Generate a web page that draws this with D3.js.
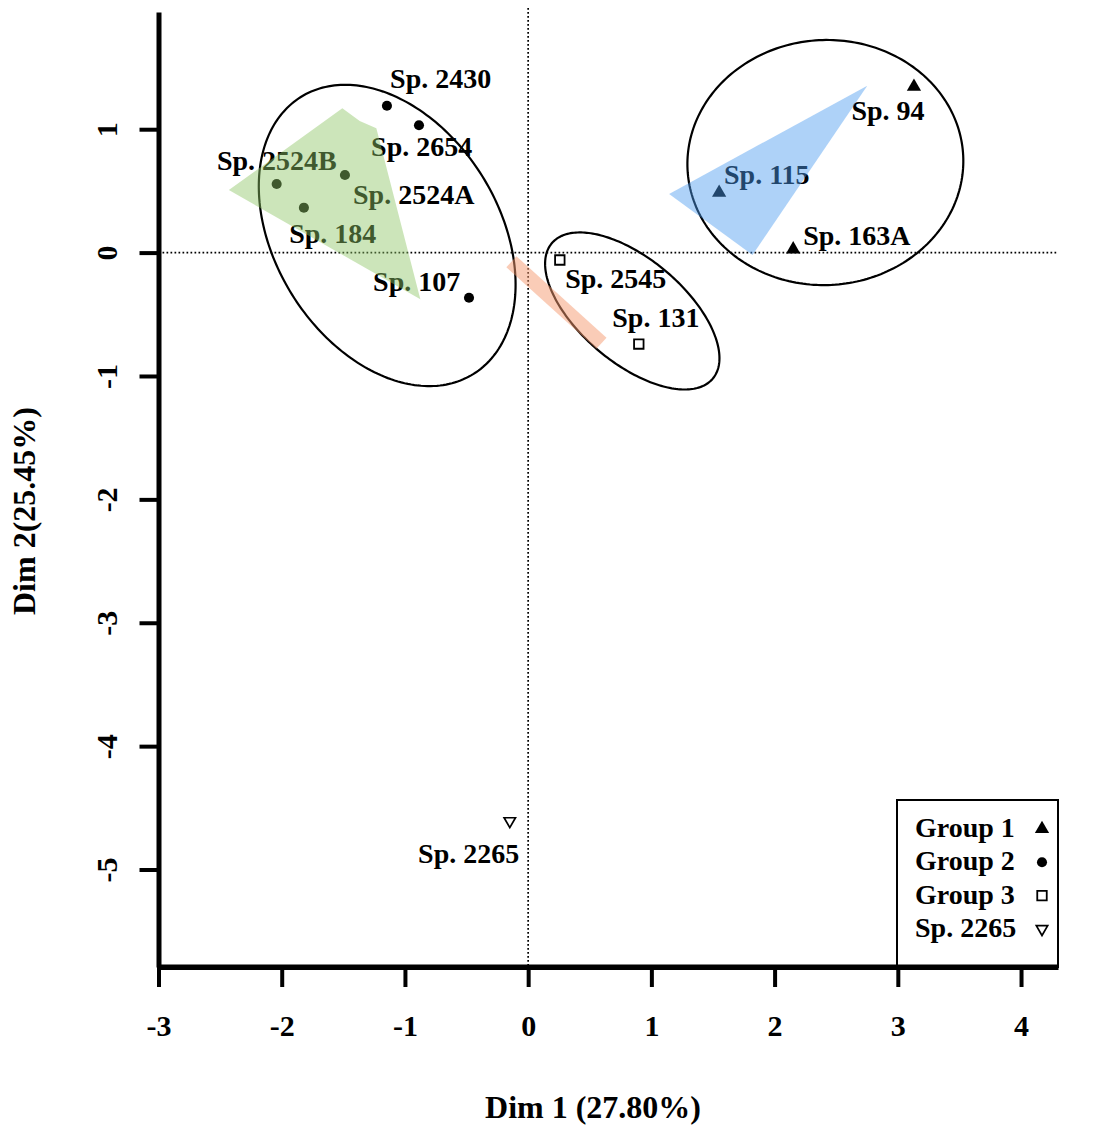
<!DOCTYPE html>
<html><head><meta charset="utf-8">
<script src="https://cdn.jsdelivr.net/npm/d3@7"></script>
<style>
body{margin:0;background:#fff}
svg{display:block}
text{font-family:"Liberation Serif","Times New Roman",Times,serif;font-weight:bold;fill:#000}
</style>
</head><body>
<svg id="chart" width="1097" height="1126"></svg>
<script>
// ---------- data ----------
const groupNames = ["Group 1", "Group 2", "Group 3", "Sp. 2265"];
const speciesNames = ["Sp. 2430","Sp. 2654","Sp. 2524B","Sp. 2524A","Sp. 184","Sp. 107",
                      "Sp. 94","Sp. 115","Sp. 163A","Sp. 2545","Sp. 131","Sp. 2265"];
const speciesGroup = [1,1,1,1,1,1, 0,0,0, 2,2, 3];
const dim1 = [-1.146,-0.886,-2.041,-1.487,-1.820,-0.480, 3.131,1.550,2.151, 0.257,0.898, -0.149];
const dim2 = [ 1.190, 1.032, 0.556, 0.629, 0.364,-0.366, 1.345,0.485,0.027,-0.060,-0.741,-4.607];
// repelled label anchor positions (data units)
const labelDim1 = [-0.710,-0.864,-2.040,-0.929,-1.586,-0.905, 2.920,1.937,2.668, 0.711,1.036,-0.483];
const labelDim2 = [ 1.415, 0.864, 0.750, 0.467, 0.151,-0.238, 1.148,0.637,0.135,-0.206,-0.522,-4.866];

const xTicks = [-3,-2,-1,0,1,2,3,4];
const yTicks = [1,0,-1,-2,-3,-4,-5];
const xTitle = "Dim 1 (27.80%)";
const yTitle = "Dim 2(25.45%)";

// confidence ellipses for groups 1..3 (data units)
const ellipseCx = [2.412,-1.144, 0.845];
const ellipseCy = [0.730, 0.139,-0.473];
const ellipseRx = [1.120, 1.323, 0.853];
const ellipseRy = [0.993, 0.909, 0.422];
const ellipseAngle = [3, -58, -40];

// shaded hulls (data units)
const greenHull = [[-2.429,0.507],[-1.508,1.169],[-1.367,1.067],[-1.232,1.007],[-0.875,-0.378]];
const blueHull  = [[1.144,0.475],[2.752,1.353],[1.821,-0.019]];
const orangeHull = [[-0.136,-0.074],[0.595,-0.735]];

// ---------- chart ----------
const svg = d3.select("#chart");
const x = d3.scaleLinear().domain([-3, 4.3]).range([158.5, 1058]);
const y = d3.scaleLinear().domain([1.95, -5.79]).range([12, 967]);
const fmt = d => String(d);

// dotted reference lines
svg.append("line").attr("x1", x(0)).attr("x2", x(0)).attr("y1", y(1.95) - 4).attr("y2", y(-5.79))
  .attr("stroke","#000").attr("stroke-width",1.7).attr("stroke-dasharray","1.7,2.3");
svg.append("line").attr("x1", x(-3)).attr("x2", x(4.3)).attr("y1", y(0)).attr("y2", y(0))
  .attr("stroke","#000").attr("stroke-width",1.7).attr("stroke-dasharray","1.7,2.3");

// ellipses
const lineGen = d3.line().x(d => x(d[0])).y(d => y(d[1])).curve(d3.curveLinearClosed);
ellipseCx.forEach((cx, i) => {
  const a = ellipseAngle[i] * Math.PI / 180;
  const pts = d3.range(0, 2*Math.PI, Math.PI/120).map(t => {
    const ex = ellipseRx[i]*Math.cos(t), ey = ellipseRy[i]*Math.sin(t);
    return [cx + ex*Math.cos(a) - ey*Math.sin(a), ellipseCy[i] + ex*Math.sin(a) + ey*Math.cos(a)];
  });
  svg.append("path").attr("d", lineGen(pts)).attr("fill","none").attr("stroke","#000").attr("stroke-width",2.2);
});

// marker factory
function marker(sel, g) {
  if (g === 0) sel.attr("d", d3.symbol(d3.symbolTriangle, 88)()).attr("fill","#000");
  else if (g === 1) sel.attr("d", d3.symbol(d3.symbolCircle, 80)()).attr("fill","#000");
  else if (g === 2) sel.attr("d", d3.symbol(d3.symbolSquare, 90)()).attr("fill","#fff").attr("stroke","#000").attr("stroke-width",1.8);
  else sel.attr("d", d3.symbol(d3.symbolTriangle, 56)()).attr("fill","#fff").attr("stroke","#000").attr("stroke-width",1.7);
}

// points
speciesNames.forEach((n, i) => {
  const g = speciesGroup[i];
  const p = svg.append("path").attr("transform", `translate(${x(dim1[i])},${y(dim2[i])})` + (g === 3 ? " rotate(180)" : ""));
  marker(p, g);
});

// labels
svg.append("g").selectAll("text").data(speciesNames).join("text")
  .attr("x", (d, i) => x(labelDim1[i])).attr("y", (d, i) => y(labelDim2[i]))
  .attr("dy", "0.34em").attr("text-anchor","middle").attr("font-size", 28).text(d => d);

// axes
const xAxis = svg.append("g").attr("transform", `translate(0,${y(-5.79)})`)
  .call(d3.axisBottom(x).tickValues(xTicks).tickSize(20).tickSizeOuter(0).tickPadding(28).tickFormat(fmt));
xAxis.select(".domain").attr("stroke-width",5);
xAxis.selectAll(".tick line").attr("stroke-width",4);
xAxis.selectAll(".tick text").attr("font-size",30).attr("font-family",null).attr("dy","0.71em");

const yAxis = svg.append("g").attr("transform", `translate(${x(-3)},0)`)
  .call(d3.axisLeft(y).tickValues(yTicks).tickSize(19).tickSizeOuter(0).tickFormat(fmt));
yAxis.select(".domain").attr("stroke-width",5);
yAxis.selectAll(".tick line").attr("stroke-width",4);
yAxis.selectAll(".tick text").attr("font-size",30).attr("font-family",null)
  .attr("transform","rotate(-90)").attr("x",0).attr("y",-42).attr("dy",0).attr("text-anchor","middle");
svg.selectAll(".tick text").style("font-family",'"Liberation Serif","Times New Roman",serif').style("font-weight","bold");

// axis titles
svg.append("text").attr("x", 593).attr("y", 1118).attr("text-anchor","middle").attr("font-size",32).text(xTitle);
svg.append("text").attr("transform","translate(35,511) rotate(-90)").attr("text-anchor","middle").attr("font-size",32).text(yTitle);

// legend
const lg = svg.append("g");
lg.append("rect").attr("x",897).attr("y",800).attr("width",161).attr("height",167)
  .attr("fill","#fff").attr("stroke","#000").attr("stroke-width",2);
groupNames.forEach((n, i) => {
  lg.append("text").attr("x",915).attr("y",837 + i*33.3).attr("font-size",28).text(n);
  const p = lg.append("path").attr("transform", `translate(1042,${829 + i*33.3})` + (i === 3 ? " rotate(180)" : ""));
  marker(p, i);
});
// redraw x-axis domain over legend bottom edge
svg.append("line").attr("x1", x(-3)).attr("x2", x(4.3)).attr("y1", y(-5.79)).attr("y2", y(-5.79))
  .attr("stroke","#000").attr("stroke-width",5);

// shaded hulls (drawn on top, translucent)
svg.append("path").attr("d", lineGen(greenHull)).attr("fill","#8dc665").attr("fill-opacity",0.45);
svg.append("path").attr("d", lineGen(blueHull)).attr("fill","#4b9cf0").attr("fill-opacity",0.45);
svg.append("path").attr("d", d3.line().x(d => x(d[0])).y(d => y(d[1]))(orangeHull))
  .attr("fill","none").attr("stroke","#f59a70").attr("stroke-opacity",0.5).attr("stroke-width",15);
</script>
</body></html>
